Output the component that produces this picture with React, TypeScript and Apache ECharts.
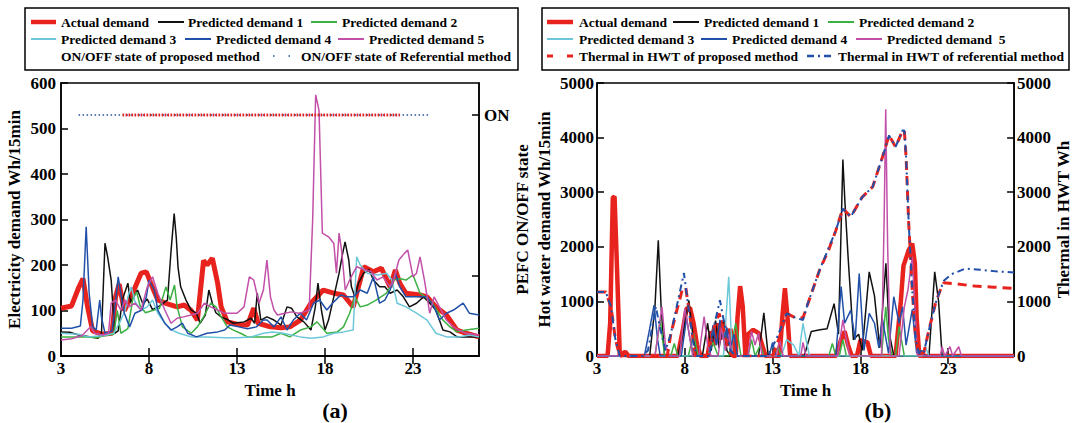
import React, { useEffect, useRef } from "react";
import * as echarts from "echarts";

const FONT = '"Liberation Serif", "Times New Roman", serif';
const X_MIN = 3;
const X_MAX = 26.75;
const X_TICKS = [3, 8, 13, 18, 23];

// ---------- (a) electricity demand, Wh/15min ----------
const elecActual = [[3,105],[3.6,110],[4.0,150],[4.25,170],[4.5,110],[4.8,55],[5.3,48],[5.9,50],[6.1,130],[6.3,158],[6.6,100],[6.9,123],[7.2,150],[7.55,182],[7.85,185],[8.1,160],[8.5,123],[9.0,115],[9.6,108],[10.0,112],[10.4,100],[10.75,79],[11.1,210],[11.3,200],[11.6,215],[11.9,160],[12.1,108],[12.45,75],[13.0,70],[13.6,68],[13.95,105],[14.2,72],[14.9,64],[15.5,62],[16.0,64],[16.6,79],[17.2,116],[17.9,145],[18.5,138],[19.05,134],[19.6,108],[19.9,152],[20.2,196],[20.75,185],[21.2,193],[21.7,152],[22.0,189],[22.25,160],[22.6,138],[23.4,134],[23.8,130],[24.3,108],[24.9,90],[25.5,57],[26.0,50],[26.75,42]];
const elecPred1 = [[3,53],[3.5,52],[4.0,46],[4.7,42],[5.1,39],[5.3,50],[5.5,248],[5.65,218],[5.85,167],[6.05,50],[6.25,55],[6.5,125],[6.8,160],[6.95,118],[7.35,145],[7.65,115],[7.9,125],[8.2,102],[8.6,110],[9.05,123],[9.25,230],[9.43,313],[9.55,260],[9.65,195],[9.8,152],[10.1,123],[10.4,101],[10.7,94],[10.9,72],[11.2,90],[11.4,145],[11.6,116],[11.8,95],[12.1,86],[12.5,79],[12.8,72],[13.4,75],[13.8,83],[14.0,72],[14.15,138],[14.35,79],[14.7,86],[15.1,79],[15.5,68],[15.84,108],[16.1,105],[16.4,86],[16.8,75],[17.2,57],[17.45,108],[17.6,160],[17.8,100],[18.0,57],[18.2,79],[18.5,130],[18.8,182],[19.0,225],[19.14,251],[19.35,211],[19.5,152],[19.7,130],[19.9,160],[20.2,182],[20.5,190],[20.75,167],[21.1,152],[21.4,152],[21.7,138],[22.1,145],[22.45,130],[22.8,108],[23.2,116],[23.6,130],[23.95,116],[24.3,101],[24.7,57],[25.1,53],[25.5,42],[26.0,42],[26.75,42]];
const elecPred2 = [[3,42],[4.5,42],[5.0,40],[5.5,45],[6.0,48],[6.2,100],[6.4,50],[6.8,60],[7.1,130],[7.3,140],[7.5,110],[7.8,95],[8.2,100],[8.6,105],[8.96,152],[9.2,123],[9.45,156],[9.6,108],[9.9,64],[10.4,50],[10.75,64],[11.1,86],[11.5,116],[11.8,108],[12.1,86],[12.45,64],[12.8,57],[13.2,50],[13.6,42],[14.2,42],[15.0,42],[15.5,50],[16.0,42],[16.6,57],[17.2,64],[17.55,75],[17.8,64],[18.1,50],[18.7,53],[19.05,64],[19.4,94],[19.7,130],[20.0,108],[20.4,112],[20.9,123],[21.5,138],[21.9,167],[22.3,170],[22.6,167],[23.0,178],[23.4,138],[23.7,130],[24.1,116],[24.7,79],[25.1,64],[25.5,53],[26.0,57],[26.75,61]];
const elecPred3 = [[3,50],[4.0,48],[4.5,42],[5.5,45],[6.0,50],[6.4,79],[6.65,101],[6.8,130],[7.0,152],[7.2,120],[7.55,101],[7.9,108],[8.2,123],[8.5,94],[8.9,72],[9.3,57],[9.7,50],[10.4,42],[11.3,42],[12.3,40],[13.0,40],[13.8,42],[14.5,50],[15.0,53],[15.6,50],[16.6,42],[17.2,39],[17.9,42],[18.5,50],[19.05,53],[19.6,57],[19.8,218],[20.0,200],[20.4,182],[21.0,178],[21.5,182],[21.8,167],[22.1,116],[22.6,108],[23.2,94],[23.8,79],[24.3,50],[24.9,42],[25.6,42],[26.2,46],[26.75,42]];
const elecPred4 = [[3,61],[3.6,61],[4.1,66],[4.25,123],[4.43,284],[4.6,138],[4.8,64],[5.0,57],[5.2,123],[5.3,85],[5.5,50],[5.9,55],[6.1,120],[6.25,174],[6.45,125],[6.6,94],[6.9,64],[7.2,94],[7.6,101],[7.85,130],[8.0,167],[8.3,145],[8.5,101],[8.9,72],[9.25,57],[9.6,64],[9.9,72],[10.2,50],[10.7,42],[11.3,50],[11.9,53],[12.3,57],[12.6,68],[13.1,64],[13.6,60],[14.1,64],[14.5,79],[14.71,79],[15.1,64],[15.5,86],[15.84,57],[16.2,79],[16.6,94],[16.95,79],[17.35,116],[17.7,123],[18.1,101],[18.5,119],[18.9,134],[19.25,130],[19.6,130],[20.0,145],[20.4,138],[20.75,174],[21.1,116],[21.4,123],[21.7,145],[22.0,182],[22.25,152],[22.6,130],[23.4,130],[23.8,130],[24.2,108],[24.5,79],[24.9,94],[25.3,101],[25.85,116],[26.2,94],[26.75,90]];
const elecPred5 = [[3,35],[3.6,38],[4.2,45],[4.5,57],[4.7,65],[4.9,50],[5.4,46],[5.7,50],[5.85,116],[6.1,123],[6.4,101],[6.65,123],[6.85,108],[7.2,116],[7.55,101],[7.9,152],[8.2,174],[8.5,138],[8.9,101],[9.25,72],[9.6,83],[9.95,86],[10.4,90],[10.75,94],[11.15,116],[11.5,108],[11.9,101],[12.3,94],[13.0,94],[13.4,108],[13.7,174],[13.95,167],[14.25,116],[14.5,145],[14.7,211],[14.9,130],[15.1,101],[15.3,90],[15.7,94],[16.1,97],[16.5,94],[16.8,97],[17.1,101],[17.3,300],[17.47,574],[17.66,540],[17.85,270],[18.2,262],[18.5,248],[18.65,182],[18.8,270],[18.95,230],[19.15,145],[19.4,167],[19.6,182],[19.8,196],[20.2,190],[20.6,186],[20.95,167],[21.3,174],[21.7,152],[21.9,167],[22.2,211],[22.5,225],[22.7,233],[23.0,174],[23.2,182],[23.4,218],[23.65,167],[23.95,94],[24.2,130],[24.5,108],[24.9,79],[25.3,64],[25.6,57],[26.0,50],[26.75,46]];
const onProposed = [[6.5,1],[22.25,1]];
const onReferential = [[4.0,1],[24.0,1]];

// ---------- (b) hot water demand, Wh/15min ----------
const hwActual = [[3,0],[3.6,0],[3.75,600],[3.9,2900],[4.0,2920],[4.15,1500],[4.3,0],[4.6,80],[4.8,0],[7.6,0],[7.9,500],[8.1,870],[8.3,880],[8.5,600],[8.7,200],[8.9,0],[9.3,0],[9.5,450],[9.7,200],[9.85,600],[10.0,300],[10.2,650],[10.4,200],[10.6,500],[10.75,0],[10.9,0],[11.0,700],[11.15,1280],[11.3,900],[11.45,0],[11.6,400],[11.9,480],[12.2,420],[12.45,150],[12.6,0],[13.4,0],[13.55,700],[13.7,1240],[13.85,700],[14.0,0],[16.6,0],[16.9,300],[17.1,450],[17.3,200],[17.5,0],[17.8,0],[18.0,290],[18.4,250],[18.6,0],[20.0,0],[20.3,1000],[20.45,1650],[20.75,1940],[20.95,2060],[21.1,1700],[21.2,700],[21.35,0],[26.75,0]];
const hwPred1 = [[3,0],[6.0,0],[6.3,900],[6.49,2120],[6.65,900],[6.85,0],[7.6,0],[7.9,400],[8.23,1020],[8.45,400],[8.7,0],[9.0,0],[9.3,600],[9.5,100],[9.75,650],[9.95,150],[10.2,620],[10.4,100],[10.6,0],[12.2,0],[12.5,790],[12.75,0],[14.8,0],[15.2,450],[15.7,480],[16.1,500],[16.5,960],[16.75,400],[17.0,3600],[17.12,2800],[17.3,1800],[17.6,300],[17.9,400],[18.1,100],[18.5,1540],[18.8,1100],[19.1,150],[19.45,1700],[19.65,400],[19.9,0],[21.9,0],[22.23,1540],[22.45,1000],[22.65,0],[26.75,0]];
const hwPred2 = [[3,0],[6.3,0],[6.6,660],[6.85,0],[7.2,0],[7.4,230],[7.6,0],[8.2,0],[8.5,415],[8.75,0],[9.3,0],[9.6,250],[9.9,0],[10.5,0],[10.9,600],[11.2,0],[11.6,0],[11.8,300],[12.0,0],[12.3,200],[12.5,0],[13.1,0],[13.3,170],[13.5,0],[16.2,0],[16.4,230],[16.6,0],[16.8,0],[17.0,300],[17.2,0],[19.2,0],[19.44,900],[19.6,300],[19.8,0],[20.0,0],[20.2,540],[20.5,0],[26.75,0]];
const hwPred3 = [[3,0],[10.2,0],[10.5,1450],[10.7,0],[13.5,0],[13.8,300],[14.2,200],[14.5,0],[14.6,300],[14.73,600],[14.9,300],[15.1,0],[21.5,0],[21.7,170],[21.9,0],[26.75,0]];
const hwPred4 = [[3,0],[5.7,0],[6.0,500],[6.25,930],[6.45,300],[6.6,0],[7.8,0],[8.1,700],[8.3,300],[8.5,0],[9.4,0],[9.6,560],[9.8,200],[10.0,660],[10.2,300],[10.4,520],[10.6,150],[10.8,400],[11.0,0],[12.8,0],[13.0,250],[13.2,0],[16.6,0],[16.9,1270],[17.1,600],[17.45,840],[17.7,300],[17.93,1510],[18.2,100],[18.5,780],[18.8,600],[19.05,150],[19.25,680],[19.6,50],[19.9,1085],[20.2,600],[20.4,900],[20.6,200],[20.95,850],[21.2,50],[21.5,100],[21.7,0],[26.75,0]];
const hwPred5 = [[3,0],[6.3,0],[6.7,900],[6.9,200],[7.1,0],[7.7,0],[8.0,870],[8.25,400],[8.45,0],[8.8,0],[9.1,720],[9.3,200],[9.5,0],[9.9,0],[10.1,540],[10.3,100],[10.5,400],[10.7,0],[11.6,0],[11.8,450],[12.0,200],[12.2,420],[12.4,0],[13.2,0],[13.4,300],[13.6,0],[14.6,0],[14.73,250],[14.9,0],[16.7,0],[17.0,660],[17.2,300],[17.4,0],[19.2,0],[19.35,2500],[19.44,4520],[19.55,2000],[19.7,0],[20.2,0],[20.5,900],[20.7,1200],[20.95,1815],[21.1,900],[21.25,0],[22.55,0],[22.65,170],[22.8,0],[23.1,170],[23.25,0],[23.6,170],[23.75,0],[26.75,0]];
const hwtProposed = [[3,1170],[3.5,1170],[3.8,900],[4.05,300],[4.3,0],[7.0,0],[7.2,400],[7.5,780],[7.85,1210],[8.05,1260],[8.3,700],[8.6,0],[9.3,0],[9.6,450],[9.95,780],[10.2,500],[10.5,100],[10.7,0],[13.0,0],[13.4,350],[13.8,780],[14.3,700],[14.73,700],[15.0,950],[15.67,1570],[16.2,1950],[16.6,2300],[17.0,2700],[17.45,2550],[18.1,2910],[18.7,3100],[19.25,3640],[19.63,4040],[20.0,3830],[20.4,4130],[20.5,4130],[20.6,3640],[20.75,2430],[20.95,1210],[21.15,290],[21.33,50],[21.6,50],[21.9,475],[22.27,960],[22.55,1210],[22.75,1340],[23.5,1320],[24.5,1280],[25.6,1260],[26.75,1240]];
const hwtReferential = [[3,1170],[3.5,1170],[3.8,900],[4.05,300],[4.3,0],[5.6,0],[5.9,100],[6.35,900],[6.6,500],[6.9,100],[7.2,400],[7.6,1000],[7.95,1520],[8.2,900],[8.5,200],[8.7,0],[9.4,0],[9.7,600],[10.0,1020],[10.25,600],[10.6,100],[10.9,0],[12.7,0],[13.2,300],[13.8,780],[14.3,700],[14.73,660],[15.0,960],[15.67,1570],[16.6,2300],[17.0,2700],[17.45,2550],[18.1,2910],[18.7,3100],[19.25,3640],[19.63,4040],[20.0,3830],[20.4,4130],[20.5,4130],[20.6,3640],[20.75,2430],[20.95,1210],[21.15,290],[21.33,50],[21.6,50],[21.9,475],[22.27,960],[22.55,1210],[22.75,1380],[23.2,1500],[23.97,1600],[24.8,1580],[25.7,1550],[26.75,1530]];

const C = {
  red: "#e8221c",
  black: "#111111",
  green: "#3cb043",
  cyan: "#6cc8d8",
  blue: "#2150a8",
  pink: "#c24fa8",
};

const txt = { color: "#000", fontFamily: FONT, fontWeight: "bold" as const };
const plain = (v: number) => String(v);

function xAxes(grid: number) {
  const line = { show: true, lineStyle: { color: "#000", width: 1.5 } };
  return [
    {
      type: "value", gridIndex: grid, min: X_MIN, max: X_MAX, position: "bottom",
      axisLine: line,
      axisTick: { inside: true, length: 8, customValues: X_TICKS.slice(1), lineStyle: { color: "#000", width: 1.5 } },
      axisLabel: { ...txt, fontSize: 17, margin: 4, customValues: X_TICKS, formatter: plain },
      splitLine: { show: false },
      name: "Time h", nameLocation: "middle", nameGap: 25,
      nameTextStyle: { ...txt, fontSize: 17 },
    },
    {
      type: "value", gridIndex: grid, min: X_MIN, max: X_MAX, position: "top",
      axisLine: line,
      axisTick: { inside: true, length: 8, customValues: X_TICKS.slice(1), lineStyle: { color: "#000", width: 1.5 } },
      axisLabel: { show: false },
      splitLine: { show: false },
    },
  ];
}

function lineSeries(name: string, data: number[][], color: string, width: number, xi: number, yi: number, z = 2, type: any = "solid") {
  return {
    name, type: "line", data, xAxisIndex: xi, yAxisIndex: yi,
    showSymbol: false, symbol: "none", silent: true, z,
    lineStyle: { color, width, type },
  };
}

function legendItem(x1: number, x2: number, y: number, color: string, w: number, label: string, tx: number, dash?: number[]) {
  const els: any[] = [];
  if (color) {
    els.push({
      type: "line", shape: { x1, y1: y, x2, y2: y },
      style: { stroke: color, lineWidth: w, lineDash: dash },
    });
  }
  els.push({
    type: "text", x: tx, y,
    style: { text: label, fill: "#000", font: `bold 13.5px ${FONT}`, verticalAlign: "middle", align: "left" },
  });
  return els;
}

export default function App() {
  const ref = useRef<HTMLDivElement>(null);
  useEffect(() => {
    if (!ref.current) return;
    const chart = echarts.init(ref.current, undefined, { renderer: "svg" });
    const tickStyle = { color: "#000", width: 1.5 };
    const axLine = { show: true, lineStyle: { color: "#000", width: 1.5 } };
    const r1 = 22, r2 = 39, r3 = 56;
    const graphic: any[] = [
      { type: "rect", shape: { x: 25, y: 8, width: 493, height: 62 }, style: { fill: "#fff", stroke: "#000", lineWidth: 1.5 } },
      ...legendItem(31, 56, r1, C.red, 4.5, "Actual demand", 61),
      ...legendItem(158, 184, r1, C.black, 2, "Predicted demand 1", 188),
      ...legendItem(311, 337, r1, C.green, 2, "Predicted demand 2", 342),
      ...legendItem(31, 56, r2, C.cyan, 2, "Predicted demand 3", 61),
      ...legendItem(185, 211, r2, C.blue, 2, "Predicted demand 4", 216),
      ...legendItem(338, 364, r2, C.pink, 2, "Predicted demand 5", 369),
      ...legendItem(0, 0, r3, "", 0, "ON/OFF state of proposed method", 61),
      ...legendItem(273, 295, r3, C.blue, 1.5, "ON/OFF state of Referential method", 301, [1.5, 14]),
      { type: "rect", shape: { x: 542, y: 8, width: 527, height: 62 }, style: { fill: "#fff", stroke: "#000", lineWidth: 1.5 } },
      ...legendItem(547, 573, r1, C.red, 4.5, "Actual demand", 579),
      ...legendItem(673, 699, r1, C.black, 2, "Predicted demand 1", 704),
      ...legendItem(828, 854, r1, C.green, 2, "Predicted demand 2", 859),
      ...legendItem(547, 573, r2, C.cyan, 2, "Predicted demand 3", 579),
      ...legendItem(701, 727, r2, C.blue, 2, "Predicted demand 4", 732),
      ...legendItem(856, 882, r2, C.pink, 2, "Predicted demand  5", 887),
      ...legendItem(547, 573, r3, C.red, 3, "Thermal in HWT of proposed method", 579, [6, 14]),
      ...legendItem(807, 833, r3, C.blue, 2.5, "Thermal in HWT of referential method", 838, [7, 4, 2, 4]),
      { type: "text", x: 335, y: 410, style: { text: "(a)", fill: "#000", font: `bold 22px ${FONT}`, align: "center", verticalAlign: "middle" } },
      { type: "text", x: 878, y: 410, style: { text: "(b)", fill: "#000", font: `bold 22px ${FONT}`, align: "center", verticalAlign: "middle" } },
    ];

    const option: any = {
      animation: false,
      backgroundColor: "#fff",
      grid: [
        { left: 61, top: 83, width: 418, height: 273, show: true, borderColor: "#000", borderWidth: 1.5, backgroundColor: "transparent" },
        { left: 597, top: 83, width: 422, height: 273, show: true, borderColor: "#000", borderWidth: 1.5, backgroundColor: "transparent" },
      ],
      xAxis: [...xAxes(0), ...xAxes(1)],
      yAxis: [
        {
          type: "value", gridIndex: 0, min: 0, max: 600, interval: 100, position: "left",
          axisLine: axLine, axisTick: { inside: true, length: 7, lineStyle: tickStyle },
          axisLabel: { ...txt, fontSize: 17, margin: 5, formatter: plain }, splitLine: { show: false },
          name: "Electricity demand Wh/15min", nameLocation: "middle", nameRotate: 90, nameGap: 38,
          nameTextStyle: { ...txt, fontSize: 17 },
        },
        {
          type: "value", gridIndex: 0, min: 0, max: 1.1328, position: "right",
          axisLine: axLine,
          axisTick: { inside: true, length: 7, customValues: [0.332, 1], lineStyle: tickStyle },
          axisLabel: { ...txt, fontSize: 17, margin: 5, customValues: [1], formatter: () => "ON" },
          splitLine: { show: false },
          name: "PEFC ON/OFF state", nameLocation: "middle", nameRotate: 90, nameGap: 35,
          nameTextStyle: { ...txt, fontSize: 17 },
        },
        {
          type: "value", gridIndex: 1, min: 0, max: 5000, interval: 1000, position: "left",
          axisLine: axLine, axisTick: { inside: true, length: 7, lineStyle: tickStyle },
          axisLabel: { ...txt, fontSize: 17, margin: 3, formatter: plain }, splitLine: { show: false },
          name: "Hot water demand Wh/15min", nameLocation: "middle", nameRotate: 90, nameGap: 44,
          nameTextStyle: { ...txt, fontSize: 17 },
        },
        {
          type: "value", gridIndex: 1, min: 0, max: 5000, interval: 1000, position: "right",
          axisLine: axLine, axisTick: { inside: true, length: 7, lineStyle: tickStyle },
          axisLabel: { ...txt, fontSize: 17, margin: 3, formatter: plain }, splitLine: { show: false },
          name: "Thermal in HWT Wh", nameLocation: "middle", nameRotate: 90, nameGap: 40,
          nameTextStyle: { ...txt, fontSize: 17 },
        },
      ],
      series: [
        lineSeries("Actual demand", elecActual, C.red, 5, 0, 0, 1),
        lineSeries("Predicted demand 1", elecPred1, C.black, 1.5, 0, 0),
        lineSeries("Predicted demand 2", elecPred2, C.green, 1.5, 0, 0),
        lineSeries("Predicted demand 3", elecPred3, C.cyan, 1.5, 0, 0),
        lineSeries("Predicted demand 4", elecPred4, C.blue, 1.5, 0, 0),
        lineSeries("Predicted demand 5", elecPred5, C.pink, 1.5, 0, 0),
        lineSeries("ON/OFF state of Referential method", onReferential, C.blue, 1.5, 0, 1, 3, [1.5, 2.5]),
        lineSeries("ON/OFF state of proposed method", onProposed, C.red, 3, 0, 1, 4, [1.5, 1.5]),

        lineSeries("Actual demand (b)", hwActual, C.red, 4.5, 2, 2, 1),
        lineSeries("Predicted demand 1 (b)", hwPred1, C.black, 1.5, 2, 2),
        lineSeries("Predicted demand 2 (b)", hwPred2, C.green, 1.5, 2, 2),
        lineSeries("Predicted demand 3 (b)", hwPred3, C.cyan, 1.5, 2, 2),
        lineSeries("Predicted demand 4 (b)", hwPred4, C.blue, 1.5, 2, 2),
        lineSeries("Predicted demand 5 (b)", hwPred5, C.pink, 1.5, 2, 2),
        lineSeries("Thermal in HWT of proposed method", hwtProposed, C.red, 3, 2, 3, 5, [9, 6]),
        lineSeries("Thermal in HWT of referential method", hwtReferential, C.blue, 2, 2, 3, 6, [7, 4, 2, 4]),
      ],
      graphic,
    };
    chart.setOption(option);
    return () => chart.dispose();
  }, []);
  return (
    <div
      ref={ref}
      style={{ position: "fixed", left: 0, top: 0, width: 1073, height: 423, background: "#fff" }}
    />
  );
}
